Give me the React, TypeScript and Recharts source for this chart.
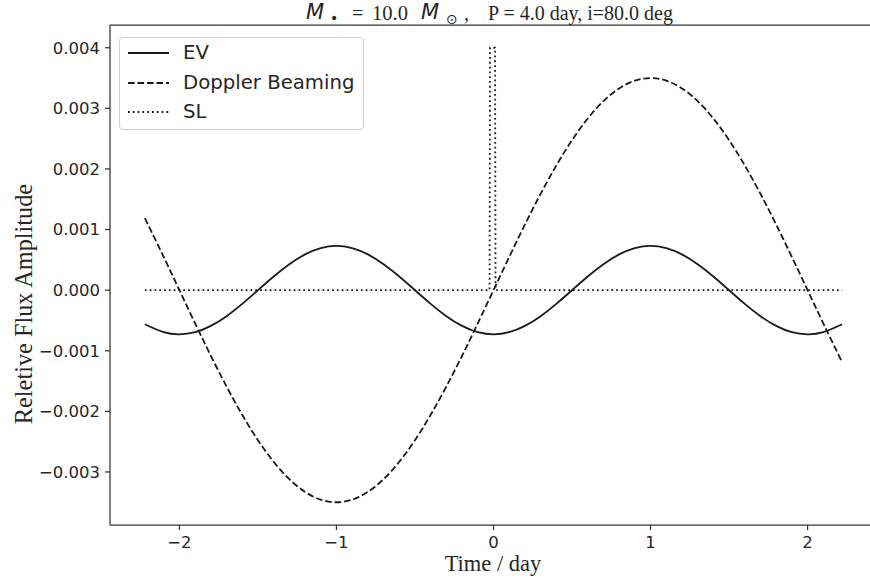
import React from 'react';
import { LineChart, Line, XAxis, YAxis, ReferenceLine } from 'recharts';

// Time samples (day)
const timeDays = [
  -2.22, -2.1, -2.0, -1.9, -1.8, -1.7, -1.6, -1.5, -1.4, -1.3, -1.2, -1.1, -1.0,
  -0.9, -0.8, -0.7, -0.6, -0.5, -0.4, -0.3, -0.2, -0.1, 0.0,
  0.1, 0.2, 0.3, 0.4, 0.5, 0.6, 0.7, 0.8, 0.9, 1.0,
  1.1, 1.2, 1.3, 1.4, 1.5, 1.6, 1.7, 1.8, 1.9, 2.0, 2.1, 2.22,
];

// Ellipsoidal variation
const evValues = [
  -0.000562, -0.000694, -0.00073, -0.000694, -0.00059, -0.000429, -0.000226, 0, 0.000226, 0.000429, 0.00059, 0.000694, 0.00073,
  0.000694, 0.00059, 0.000429, 0.000226, 0, -0.000226, -0.000429, -0.00059, -0.000694, -0.00073,
  -0.000694, -0.00059, -0.000429, -0.000226, 0, 0.000226, 0.000429, 0.00059, 0.000694, 0.00073,
  0.000694, 0.00059, 0.000429, 0.000226, 0, -0.000226, -0.000429, -0.00059, -0.000694, -0.00073, -0.000694, -0.000562,
];

// Doppler beaming
const dopplerValues = [
  0.00119, 0.000547, 0, -0.000547, -0.001082, -0.001589, -0.002057, -0.002475, -0.002832, -0.003119, -0.003329, -0.003457, -0.0035,
  -0.003457, -0.003329, -0.003119, -0.002832, -0.002475, -0.002057, -0.001589, -0.001082, -0.000547, 0,
  0.000547, 0.001082, 0.001589, 0.002057, 0.002475, 0.002832, 0.003119, 0.003329, 0.003457, 0.0035,
  0.003457, 0.003329, 0.003119, 0.002832, 0.002475, 0.002057, 0.001589, 0.001082, 0.000547, 0, -0.000547, -0.00119,
];

// Self-lensing
const slTime = [-2.22, -0.025, -0.022, 0.01, 0.013, 2.22];
const slValues = [0, 0, 0.004, 0.004, 0, 0];

const xTicks = [-2, -1, 0, 1, 2];
const yTicks = [-0.003, -0.002, -0.001, 0, 0.001, 0.002, 0.003, 0.004];

const DASHED = '6.6 2.9';
const DOTTED = '1.8 3';

const legendItems = [
  { name: 'EV', dash: undefined as string | undefined },
  { name: 'Doppler Beaming', dash: DASHED },
  { name: 'SL', dash: DOTTED },
];

const evData = timeDays.map((t, i) => ({ t, v: evValues[i] }));
const dopplerData = timeDays.map((t, i) => ({ t, v: dopplerValues[i] }));
const slData = slTime.map((t, i) => ({ t, v: slValues[i] }));

const LINE = '#1a1a1a';
const AX = '#333333';
const TXT = '#262626';
const SANS = "'DejaVu Sans', sans-serif";
const SERIF = "'Liberation Serif', 'Times New Roman', serif";
const LW = 1.8;

const fmtY = (v: number) => (v < 0 ? '\u2212' : '') + Math.abs(v).toFixed(3);
const fmtX = (v: number) => (v < 0 ? '\u2212' : '') + String(Math.abs(v));

const Y_MIN = -0.003875;
const Y_MAX = 0.004375;

export default function App() {
  return (
    <div style={{ position: 'absolute', left: 0, top: 0, width: 870, height: 582, overflow: 'hidden', background: '#fff' }}>
      <LineChart width={880} height={582} margin={{ top: 25, right: 3, bottom: 0, left: 40 }}>
        <XAxis
          dataKey="t"
          type="number"
          domain={[-2.442, 2.442]}
          ticks={xTicks}
          tickFormatter={fmtX}
          allowDataOverflow
          height={57}
          axisLine={{ stroke: AX, strokeWidth: 1.25 }}
          tickLine={{ stroke: AX, strokeWidth: 1.25 }}
          tickSize={5}
          tickMargin={6}
          tick={{ fontFamily: SANS, fontSize: 16.5, fill: TXT }}
        />
        <YAxis
          type="number"
          domain={[Y_MIN, Y_MAX]}
          ticks={yTicks}
          tickFormatter={fmtY}
          allowDataOverflow
          width={70}
          axisLine={{ stroke: AX, strokeWidth: 1.25 }}
          tickLine={{ stroke: AX, strokeWidth: 1.25 }}
          tickSize={5}
          tickMargin={5}
          tick={{ fontFamily: SANS, fontSize: 16.5, fill: TXT }}
        />
        <ReferenceLine y={Y_MAX} stroke={AX} strokeWidth={1.25} ifOverflow="visible" />
        <Line data={evData} dataKey="v" type="natural" stroke={LINE} strokeWidth={LW} dot={false} isAnimationActive={false} />
        <Line data={dopplerData} dataKey="v" type="natural" stroke={LINE} strokeWidth={LW} strokeDasharray={DASHED} dot={false} isAnimationActive={false} />
        <Line data={slData} dataKey="v" type="linear" stroke={LINE} strokeWidth={LW} strokeDasharray={DOTTED} dot={false} isAnimationActive={false} />
      </LineChart>

      <svg width={870} height={582} style={{ position: 'absolute', left: 0, top: 0, pointerEvents: 'none' }}>
        <g fill={TXT}>
          <text x={306} y={19} fontFamily={SANS} fontStyle="italic" fontSize={21}>M</text>
          <text x={330} y={23} fontFamily={SANS} fontSize={14}>{'\u2022'}</text>
          <text x={352} y={20} fontFamily={SERIF} fontSize={20}>=</text>
          <text x={372} y={20} fontFamily={SERIF} fontSize={20.5}>10.0</text>
          <text x={421} y={19} fontFamily={SANS} fontStyle="italic" fontSize={21}>M</text>
          <text x={446} y={23.5} fontFamily={SANS} fontSize={14}>{'\u2299'}</text>
          <text x={464} y={20} fontFamily={SERIF} fontSize={20}>,</text>
          <text x={488} y={20} fontFamily={SERIF} fontSize={20} style={{ whiteSpace: 'pre' }}>{'P = 4.0 day, i=80.0 deg'}</text>
        </g>
        <text x={493} y={571} textAnchor="middle" fill={TXT} fontFamily={SERIF} fontSize={22.5}>Time / day</text>
        <text x={32} y={304} transform="rotate(-90 32 304)" textAnchor="middle" fill={TXT} fontFamily={SERIF} fontSize={24.3}>Reletive Flux Amplitude</text>
      </svg>

      <div
        style={{
          position: 'absolute',
          left: 119,
          top: 37,
          width: 243,
          height: 91,
          border: '1px solid #d0d0d0',
          borderRadius: 4,
          background: 'rgba(255,255,255,0.85)',
        }}
      >
        {legendItems.map((it, i) => (
          <div key={it.name} style={{ position: 'absolute', left: 0, top: 2 + i * 29.5, height: 26, width: 243 }}>
            <svg width={50} height={26} style={{ position: 'absolute', left: 7, top: 0 }}>
              <line x1={1} y1={13} x2={42} y2={13} stroke={LINE} strokeWidth={LW} strokeDasharray={it.dash} />
            </svg>
            <span
              style={{
                position: 'absolute',
                left: 63,
                top: 0,
                lineHeight: '26px',
                fontFamily: SANS,
                fontSize: 19.7,
                color: TXT,
                whiteSpace: 'nowrap',
              }}
            >
              {it.name}
            </span>
          </div>
        ))}
      </div>
    </div>
  );
}
